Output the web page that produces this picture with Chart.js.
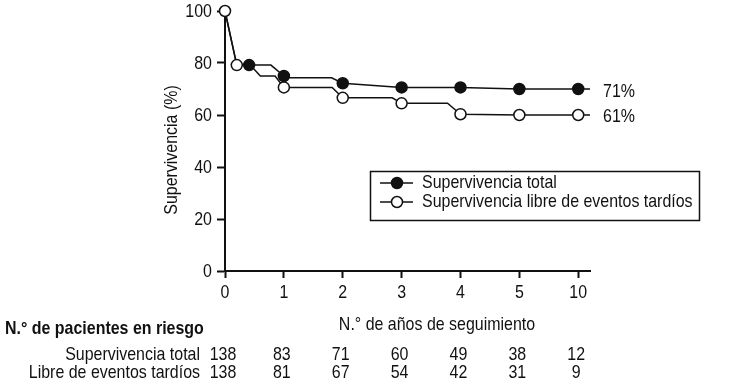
<!DOCTYPE html>
<html>
<head>
<meta charset="utf-8">
<script src="https://cdn.jsdelivr.net/npm/chart.js"></script>
<style>
  html, body { margin: 0; padding: 0; background: #fff; }
</style>
</head>
<body>
<canvas id="km" width="730" height="390"></canvas>
<script>
// x positions are slots on the axis: 0..5 are years 0..5, slot 6 is year 10
const yearLabels = ["0", "1", "2", "3", "4", "5", "10"];

// Supervivencia total (step vertices, mark = drawn circle)
const totalT = [0, 0.2, 0.41, 0.78, 1, 1.04, 1.81, 2, 3, 4, 5, 6, 6.2];
const totalS = [100, 79.2, 79.2, 79.2, 75, 74.3, 74.3, 72.2, 70.6, 70.6, 70, 70, 70];
const totalMark = [0, 0, 1, 0, 1, 0, 0, 1, 1, 1, 1, 1, 0];

// Supervivencia libre de eventos tardíos
const freeT = [0, 0.2, 0.43, 0.6, 0.85, 1, 1.82, 2, 2.84, 3, 3.78, 4, 5, 6, 6.2];
const freeS = [100, 79.2, 79.2, 75, 75, 70.6, 70.6, 66.6, 66.6, 64.5, 64.5, 60.3, 60, 60, 60];
const freeMark = [1, 1, 0, 0, 0, 1, 0, 1, 0, 1, 0, 1, 1, 1, 0];

const endLabels = ["71%", "61%"];
const seriesNames = ["Supervivencia total", "Supervivencia libre de eventos tardíos"];

// pacientes en riesgo
const riskRows = ["Supervivencia total", "Libre de eventos tardíos"];
const riskTotal = [138, 83, 71, 60, 49, 38, 12];
const riskFree = [138, 81, 67, 54, 42, 31, 9];

const FONT = '"Liberation Sans", Arial, sans-serif';
const INK = "#111";
const NARROW = 0.84; // squeeze to look like the condensed face of the original

const toPoints = (t, s) => t.map((v, i) => ({ x: v, y: s[i] }));

// text drawn narrower, alignment is kept around (x, y)
function narrowText(ctx, text, x, y) {
  ctx.save();
  ctx.translate(x, y);
  ctx.scale(NARROW, 1);
  ctx.fillText(text, 0, 0);
  ctx.restore();
}

const notes = {
  id: "notes",
  afterDraw(chart) {
    const { ctx, chartArea: a, scales: { x, y } } = chart;
    ctx.save();
    ctx.fillStyle = INK;
    ctx.strokeStyle = INK;
    ctx.font = "19px " + FONT;
    ctx.textBaseline = "middle";

    // tick labels (condensed, at the scale's own tick positions)
    ctx.textAlign = "right";
    y.ticks.forEach((t) => narrowText(ctx, String(t.value), a.left - 13, y.getPixelForValue(t.value) + 1));
    ctx.textAlign = "center";
    x.ticks.forEach((t) => narrowText(ctx, yearLabels[t.value], x.getPixelForValue(t.value), 293));

    // axis titles
    ctx.save();
    ctx.translate(172, 150);
    ctx.rotate(-Math.PI / 2);
    narrowText(ctx, "Supervivencia (%)", 0, 0);
    ctx.restore();
    narrowText(ctx, "N.° de años de seguimiento", 437, 325);

    // end labels
    ctx.textAlign = "left";
    narrowText(ctx, endLabels[0], a.right + 13, y.getPixelForValue(totalS[totalS.length - 1]) + 3);
    narrowText(ctx, endLabels[1], a.right + 13, y.getPixelForValue(freeS[freeS.length - 1]) + 2);

    // legend box
    ctx.lineWidth = 1.5;
    ctx.strokeRect(370.5, 171.5, 329, 49);
    const fills = [INK, "#fff"];
    [183, 202].forEach((ry, i) => {
      ctx.beginPath();
      ctx.moveTo(380, ry);
      ctx.lineTo(413, ry);
      ctx.stroke();
      ctx.beginPath();
      ctx.arc(397, ry, 5.5, 0, Math.PI * 2);
      ctx.fillStyle = fills[i];
      ctx.fill();
      ctx.stroke();
      ctx.fillStyle = INK;
      narrowText(ctx, seriesNames[i], 422, ry);
    });

    // risk table
    ctx.font = "bold 19px " + FONT;
    narrowText(ctx, "N.° de pacientes en riesgo", 5, 329);
    ctx.font = "19px " + FONT;
    ctx.textAlign = "right";
    narrowText(ctx, riskRows[0], 200, 355);
    narrowText(ctx, riskRows[1], 200, 373);
    ctx.textAlign = "center";
    riskTotal.forEach((n, i) => narrowText(ctx, String(n), x.getPixelForValue(i) - 2, 355));
    riskFree.forEach((n, i) => narrowText(ctx, String(n), x.getPixelForValue(i) - 2, 373));
    ctx.restore();
  }
};

const markRadius = (marks) => (c) => (marks[c.dataIndex] ? 5.5 : 0);

new Chart(document.getElementById("km").getContext("2d"), {
  type: "line",
  data: {
    datasets: [
      {
        label: seriesNames[0],
        data: toPoints(totalT, totalS),
        borderColor: INK,
        borderWidth: 1.5,
        pointRadius: markRadius(totalMark),
        pointBackgroundColor: INK,
        pointBorderColor: INK,
        pointBorderWidth: 1.5,
        tension: 0,
        clip: false,
        order: 1
      },
      {
        label: seriesNames[1],
        data: toPoints(freeT, freeS),
        borderColor: INK,
        borderWidth: 1.5,
        pointRadius: markRadius(freeMark),
        pointBackgroundColor: "#fff",
        pointBorderColor: INK,
        pointBorderWidth: 1.5,
        tension: 0,
        clip: false,
        order: 0
      }
    ]
  },
  options: {
    responsive: false,
    animation: false,
    events: [],
    layout: { padding: { left: 0, right: 140, top: 11, bottom: 0 } },
    plugins: { legend: { display: false }, tooltip: { enabled: false } },
    scales: {
      x: {
        type: "linear",
        min: 0,
        max: 6.2,
        afterBuildTicks: (s) => { s.ticks = yearLabels.map((_, i) => ({ value: i })); },
        afterFit: (s) => { s.height = 119; },
        ticks: { display: false },
        grid: { drawOnChartArea: false, color: INK, tickLength: 7, tickWidth: 2 },
        border: { color: INK, width: 2 }
      },
      y: {
        min: 0,
        max: 100,
        afterFit: (s) => { s.width = 225; },
        ticks: { display: false, stepSize: 20 },
        grid: { drawOnChartArea: false, color: INK, tickLength: 8, tickWidth: 2 },
        border: { color: INK, width: 2 }
      }
    }
  },
  plugins: [notes]
});
</script>
</body>
</html>
